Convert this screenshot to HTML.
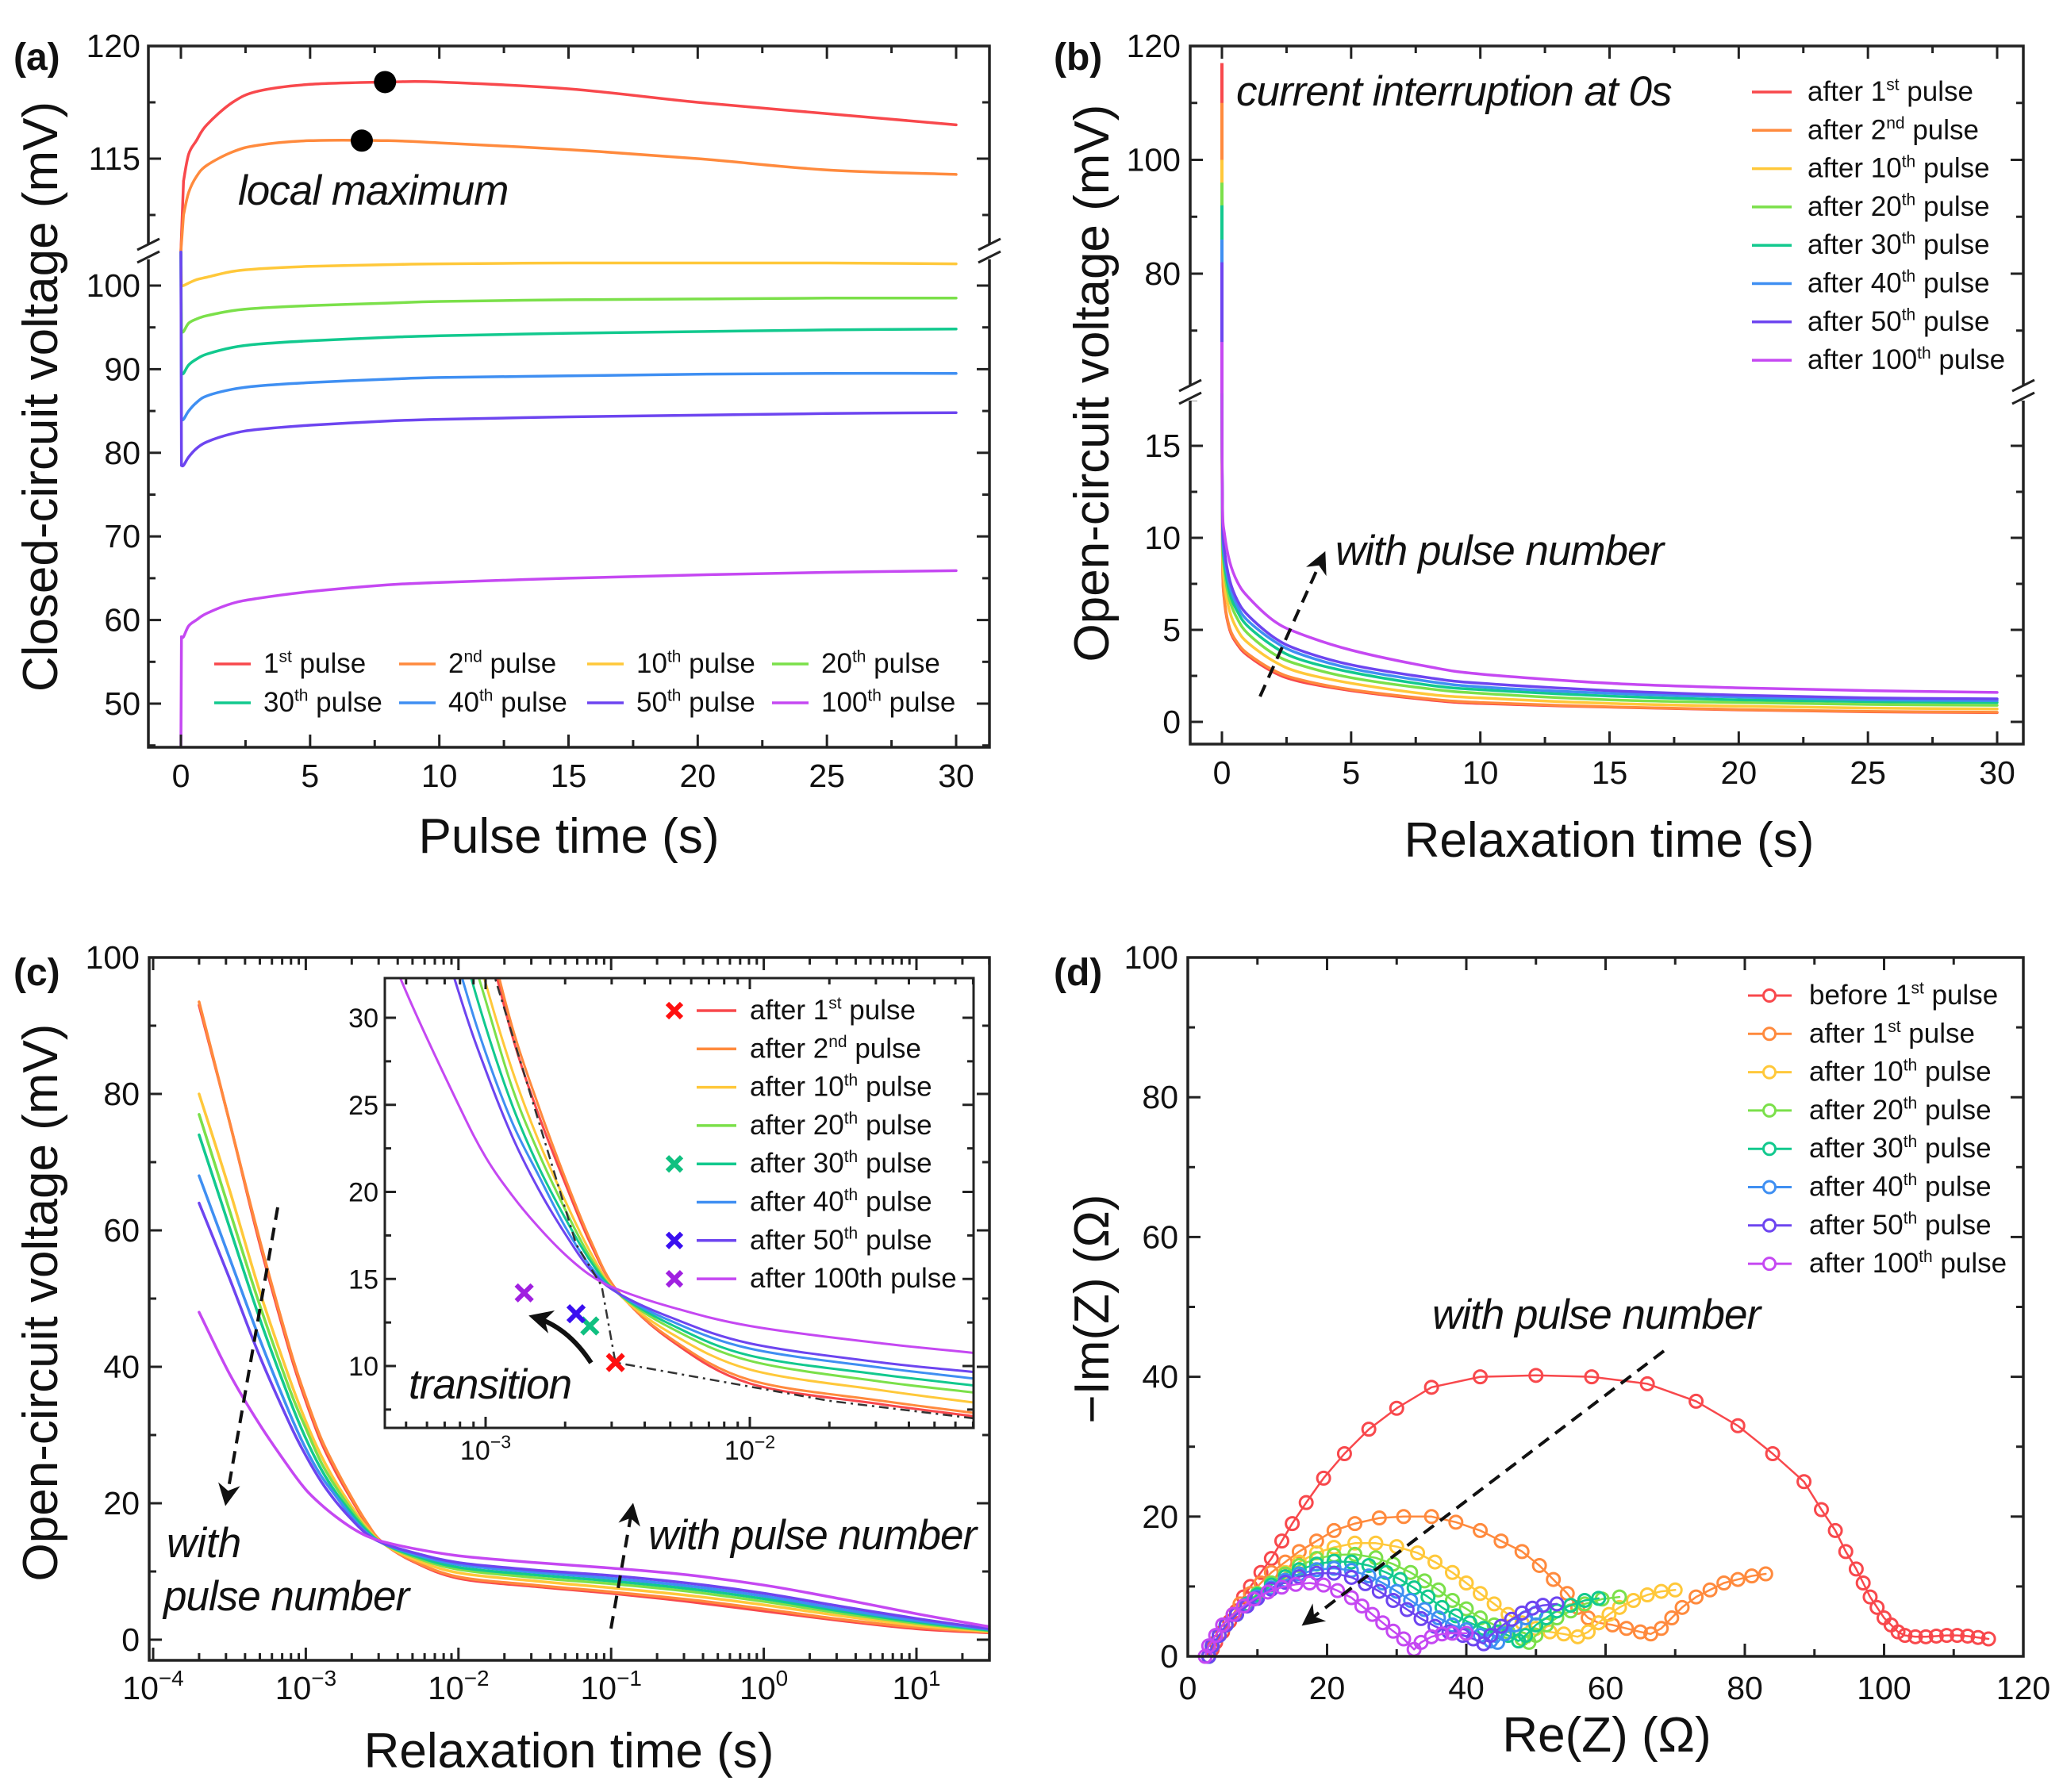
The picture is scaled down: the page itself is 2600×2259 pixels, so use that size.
<!DOCTYPE html>
<html><head><meta charset="utf-8"><style>
html,body{margin:0;padding:0;background:#fff}
svg{display:block;font-family:"Liberation Sans",sans-serif}
</style></head><body>
<svg id="fig" xmlns="http://www.w3.org/2000/svg" width="2600" height="2259" viewBox="0 0 2600 2259">
<defs>
<marker id="ah" viewBox="0 0 10 10" refX="8" refY="5" markerWidth="7" markerHeight="7" orient="auto"><path d="M0,0 L10,5 L0,10 L3,5 z" fill="#111"/></marker>
<marker id="ah2" viewBox="0 0 10 10" refX="8" refY="5" markerWidth="5" markerHeight="5" orient="auto"><path d="M0,0 L10,5 L0,10 L3,5 z" fill="#111"/></marker>
</defs>
</svg>
<script>
// ---------- shared ----------
const colors = ["#f8484c","#ff8a3d","#ffc83a","#7be04a","#12c98e","#3f8ff2","#6d45f0","#c548f2"];
const pulseOrd = [["1","st"],["2","nd"],["10","th"],["20","th"],["30","th"],["40","th"],["50","th"],["100","th"]];

// ---------- panel a data ----------
const aTime = [0,0.1,0.3,0.6,1,2,3,5,8,10,15,20,25,30];
const a1 = [110.9,114,115.2,115.8,116.5,117.5,118,118.3,118.4,118.4,118.1,117.5,117.0,116.5];
const a2 = [110.9,112.5,113.5,114.2,114.7,115.3,115.6,115.8,115.8,115.7,115.4,115.0,114.5,114.3];
const a10 = [104,100,100.3,100.7,101,101.7,102,102.3,102.5,102.6,102.7,102.7,102.7,102.6];
const a20 = [104,94.5,95.5,96,96.4,97,97.3,97.6,97.9,98.1,98.3,98.4,98.5,98.5];
const a30 = [104,89.5,90.5,91.2,91.8,92.6,93,93.4,93.8,94,94.3,94.5,94.7,94.8];
const a40 = [104,84,85,86,86.8,87.6,88,88.4,88.8,89,89.2,89.4,89.5,89.5];
const a50 = [104,78.5,79.5,80.5,81.3,82.3,82.8,83.3,83.8,84,84.3,84.5,84.7,84.8];
const a100 = [45,58,59.3,60,60.8,62,62.6,63.4,64.2,64.5,65,65.4,65.7,65.9];
const aMaxT = [7.9,7.0];
const aMaxV = [118.4,115.8];
const aXTicks = [0,5,10,15,20,25,30];
const aYUpper = [115,120];
const aYLower = [50,60,70,80,90,100];

// ---------- panel b data ----------
const bTime = [0,0.02,0.1,0.3,0.6,1,2,3,5,8,10,15,20,25,30];
const bStart = [117,110,100,96,92,86,82,68];
const b1 = [17.9,9,6.5,5,4.2,3.6,2.7,2.2,1.7,1.2,1.0,0.8,0.65,0.55,0.5];
const b2 = [17.9,9,6.6,5.1,4.3,3.7,2.8,2.3,1.75,1.25,1.05,0.82,0.67,0.57,0.52];
const b10 = [17.9,9.8,7.5,6,5,4.3,3.3,2.7,2.1,1.5,1.3,1.0,0.85,0.75,0.7];
const b20 = [17.9,10.3,8.2,6.6,5.6,4.8,3.7,3.1,2.4,1.8,1.55,1.2,1.05,0.95,0.9];
const b30 = [17.9,10.6,8.6,7.0,6.0,5.2,4.1,3.4,2.7,2.0,1.75,1.4,1.2,1.1,1.05];
const b40 = [17.9,10.9,9.0,7.4,6.3,5.5,4.4,3.7,2.9,2.2,1.9,1.55,1.35,1.2,1.15];
const b50 = [17.9,11.2,9.3,7.7,6.6,5.8,4.6,3.9,3.1,2.4,2.1,1.7,1.45,1.3,1.25];
const b100 = [17.9,11.8,10.2,8.7,7.6,6.8,5.5,4.8,3.9,3.0,2.6,2.1,1.85,1.7,1.6];
const bXTicks = [0,5,10,15,20,25,30];
const bYUpper = [80,100,120];
const bYLower = [0,5,10,15];

// ---------- panel c data ----------
const cTime = [2e-4,3.16e-4,5e-4,7.9e-4,1e-3,1.26e-3,1.58e-3,2e-3,2.5e-3,3.16e-3,5e-3,1e-2,3.16e-2,0.1,0.316,1,3.16,10,30];
const c1 = [93,76,58,42,35,29,24.5,20.5,17,14.3,11.5,9,7.8,6.8,5.6,4.2,2.8,1.6,1.0];
const c2 = [93.5,76,58.5,42.5,35.5,29.5,25,20.8,17.2,14.3,11.6,9.2,8.0,7.0,5.9,4.5,3.0,1.8,1.1];
const c10 = [80,66,51,38,32,27,23,19.5,16.5,14.2,11.9,9.8,8.6,7.6,6.5,5.1,3.5,2.1,1.2];
const c20 = [77,63,49,36.5,31,26,22.3,19,16.2,14.2,12.2,10.3,9.1,8.2,7.1,5.6,3.9,2.4,1.3];
const c30 = [74,60.5,47,35,29.5,25,21.5,18.5,16,14.2,12.4,10.6,9.5,8.6,7.5,6.0,4.2,2.6,1.4];
const c40 = [68,56,44,33,28,24,21,18,15.7,14.2,12.6,11,9.9,9.0,7.9,6.4,4.5,2.8,1.5];
const c50 = [64,53,41.5,31.5,27,23.2,20.2,17.6,15.5,14.2,12.8,11.3,10.2,9.4,8.3,6.8,4.9,3.1,1.6];
const c100 = [48,39,31.5,25,22,19.8,18,16.4,15.2,14.4,13.4,12.3,11.3,10.5,9.5,8.0,6.0,3.8,1.9];
const cXDecades = [-4,-3,-2,-1,0,1];
const cYTicks = [0,20,40,60,80,100];
const insetXDecades = [-3,-2];
const insetYTicks = [10,15,20,25,30];
const crossT = [3.1e-3,2.48e-3,2.2e-3,1.4e-3];
const crossV = [10.2,12.3,13.0,14.2];
const crossColor = ["#ff1010","#10c080","#3a10f0","#a020e0"];

// ---------- panel d data ----------
const dRed = [[3,0],[3.5,1],[4,2],[5,3.5],[6,5],[7,6.5],[8,8.5],[9,10],[10.5,12],[12,14],[13.5,16.5],[15,19],[17,22],[19.5,25.5],[22.5,29],[26,32.5],[30,35.5],[35,38.5],[42,40],[50,40.2],[58,40],[66,39],[73,36.5],[79,33],[84,29],[88.5,25],[91,21],[93,18],[94.5,15],[96,12.5],[97,10.5],[98,8.5],[99,7],[100,5.5],[101,4.5],[102,3.5],[103,3],[104.5,2.8],[106,2.8],[107.5,2.9],[109,3],[110.5,3],[112,2.9],[113.5,2.7],[115,2.5]];
const dOrange = [[3,0],[3.5,1.5],[4.5,3],[5.5,4.5],[6.5,6],[7.5,7.5],[9,9],[10.5,10.5],[12,12],[14,13.5],[16,15],[18.5,16.5],[21,18],[24,19],[27.5,19.8],[31,20],[35,20],[38.5,19.2],[42,18],[45,16.5],[48,15],[50.5,13],[52.5,11],[54.5,9],[56,7],[57.5,5.5],[59,4.8],[61,4.5],[63,4],[65,3.5],[66.5,3.2],[68,4],[69.5,5.5],[71,7],[73,8.5],[75,9.5],[77,10.5],[79,11],[81,11.5],[83,11.8]];
const dYellow = [[3,0],[3.5,1.5],[4.5,3],[5.5,4.5],[7,6],[8.5,7.5],[10,9],[12,10.5],[14,12],[16,13.5],[18.5,14.8],[21,15.6],[24,16.2],[27,16.2],[30,15.7],[33,14.8],[35.5,13.5],[38,12],[40,10.5],[42,9],[44,7.5],[46,6],[48,4.8],[50,4],[52,3.5],[54,3.2],[56,2.8],[57.5,3.5],[59,4.8],[60.5,6],[62,7],[64,8],[66,8.8],[68,9.3],[70,9.5]];
const dGreen = [[3,0],[3.5,1.5],[4.5,3],[5.5,4.5],[7,6],[8.5,7.5],[10,9],[12,10.5],[14,11.8],[16,13],[18.5,14],[21,14.5],[24,14.6],[27,14.1],[29.5,13.2],[32,12],[34,10.8],[36,9.5],[38,8],[40,6.8],[42,5.5],[44,4.5],[46,3.5],[48,2.5],[49,2],[50,3],[51.5,4.5],[53,5.5],[55,6.5],[57,7.5],[59.5,8.2],[62,8.5]];
const dTeal = [[3,0],[3.5,1.5],[4.5,3],[5.5,4.5],[7,6],[8.5,7.5],[10,8.8],[12,10.2],[14,11.4],[16,12.4],[18.5,13.2],[21,13.6],[23.5,13.5],[26,13],[28.5,12],[30.5,11],[32.5,9.8],[34.5,8.5],[36.5,7],[38.5,5.8],[40.5,4.8],[42.5,4],[44.5,3.5],[46,3],[47.5,2.2],[48.5,3],[50,4.5],[51.5,5.5],[53,6.5],[55,7.3],[57,8],[59,8.3]];
const dBlue = [[3,0],[3.5,1.5],[4.5,3],[5.5,4.5],[7,6],[8.5,7.3],[10,8.5],[12,9.8],[14,10.9],[16,11.8],[18.5,12.4],[21,12.6],[23.5,12.3],[26,11.5],[28,10.5],[30,9.3],[32,8],[34,6.7],[36,5.5],[38,4.5],[40,3.8],[42,3],[43.5,2.2],[44.5,2],[45.5,3.2],[47,4.5],[48.5,5.5],[50,6.2]];
const dViolet = [[3,0],[3.5,1.5],[4.5,3],[5.5,4.5],[7,6],[8.5,7.2],[10,8.3],[12,9.6],[14,10.6],[16,11.4],[18.5,11.9],[21,11.9],[23.5,11.3],[25.5,10.4],[27.5,9.3],[29.5,8],[31.5,6.7],[33.5,5.4],[35.5,4.3],[37.5,3.5],[39.5,3],[41,2.5],[42.5,1.8],[43.5,3],[45,4.3],[46.5,5.3],[48,6.2],[49.5,6.9],[51,7.3],[53,7.5]];
const dMagenta = [[2.5,0],[3,1.5],[4,3],[5,4.5],[6.5,6],[8,7.2],[9.5,8.2],[11.5,9.2],[13.5,9.9],[15.5,10.3],[17.5,10.5],[19.5,10.2],[21.5,9.4],[23.5,8.4],[25,7.2],[26.5,6],[28,4.8],[29.5,3.6],[31,2.5],[32.5,1],[33.5,2],[35,2.8],[36.5,3.2],[38,3.3],[40,3.3]];
const dXTicks = [0,20,40,60,80,100,120];
const dYTicks = [0,20,40,60,80,100];

// ---------- helpers ----------
const NS = "http://www.w3.org/2000/svg";
const svg = document.getElementById('fig');
const TICKF = 41, LEGF = 35, ANNF = 53, TITF = 62;
function mk(tag, attrs, name, parent) {
  const el = document.createElementNS(NS, tag);
  for (const k in attrs) el.setAttribute(k, attrs[k]);
  
  
  (parent || svg).appendChild(el);
  return el;
}
function grp(name) { return mk('g', {}, name); }
function txt(x, y, s, size, name, opts, parent) {
  opts = opts || {};
  const a = {x:x, y:y, 'font-size':size, fill:'#111'};
  if (opts.anchor) a['text-anchor'] = opts.anchor;
  if (opts.italic) a['font-style'] = 'italic';
  if (opts.bold) a['font-weight'] = 'bold';
  if (opts.transform) a.transform = opts.transform;
  if (opts.ls) a['letter-spacing'] = opts.ls;
  const t = mk('text', a, name, parent);
  t.textContent = s;
  return t;
}
function ordText(x, y, pre, ord, post, size, name, parent, anchor) {
  const a = {x:x, y:y, 'font-size':size, fill:'#111'};
  if (anchor) a['text-anchor'] = anchor;
  const t = mk('text', a, name, parent);
  t.appendChild(document.createTextNode(pre));
  const s = document.createElementNS(NS, 'tspan');
  s.setAttribute('dy', -size*0.38);
  s.setAttribute('font-size', size*0.6);
  s.textContent = ord;
  t.appendChild(s);
  const r = document.createElementNS(NS, 'tspan');
  r.setAttribute('dy', size*0.38);
  r.textContent = post;
  t.appendChild(r);
  return t;
}
function pwr(x, y, exp, size, name, parent) {
  const t = mk('text', {x:x, y:y, 'font-size':size, fill:'#111', 'text-anchor':'middle'}, name, parent);
  t.appendChild(document.createTextNode('10'));
  const s = document.createElementNS(NS, 'tspan');
  s.setAttribute('dy', -size*0.42);
  s.setAttribute('font-size', size*0.68);
  s.textContent = exp;
  t.appendChild(s);
  return t;
}
function ln(x1,y1,x2,y2,name,parent,stroke,w,extra) {
  const a = {x1:x1,y1:y1,x2:x2,y2:y2,stroke:stroke||'#222','stroke-width':w||3};
  if (extra) for (const k in extra) a[k]=extra[k];
  return mk('line', a, name, parent);
}
function poly(pts, color, name, parent, w) {
  return mk('polyline', {points: pts.map(p=>p[0].toFixed(1)+','+p[1].toFixed(1)).join(' '), fill:'none', stroke:color, 'stroke-width':w||3.5, 'stroke-linejoin':'round','stroke-linecap':'round'}, name, parent);
}
function smooth(pts, color, name, parent, w) {
  let d = 'M'+pts[0][0].toFixed(1)+','+pts[0][1].toFixed(1);
  for (let i=0;i<pts.length-1;i++){
    const p0=pts[Math.max(0,i-1)], p1=pts[i], p2=pts[i+1], p3=pts[Math.min(pts.length-1,i+2)];
    const c1x=p1[0]+(p2[0]-p0[0])/6, c1y=p1[1]+(p2[1]-p0[1])/6;
    const c2x=p2[0]-(p3[0]-p1[0])/6, c2y=p2[1]-(p3[1]-p1[1])/6;
    d+=' C'+c1x.toFixed(1)+','+c1y.toFixed(1)+' '+c2x.toFixed(1)+','+c2y.toFixed(1)+' '+p2[0].toFixed(1)+','+p2[1].toFixed(1);
  }
  return mk('path', {d:d, fill:'none', stroke:color, 'stroke-width':w||3.5, 'stroke-linejoin':'round','stroke-linecap':'round'}, name, parent);
}
function frame(x0,y0,x1,y1,name,parent,w){
  return mk('rect',{x:x0,y:y0,width:x1-x0,height:y1-y0,fill:'none',stroke:'#222','stroke-width':w||3.5},name,parent);
}
function xTick(x, y0, y1, len, name, parent){
  ln(x,y1,x,y1-len,name,parent,'#222',3);
  ln(x,y0,x,y0+len,name+'-top',parent,'#222',3);
}
function yTick(y, x0, x1, len, name, parent){
  ln(x0,y,x0+len,y,name,parent,'#222',3);
  ln(x1,y,x1-len,y,name+'-right',parent,'#222',3);
}
function breakMark(x, y, name, parent){
  mk('rect',{x:x-14,y:y-10,width:28,height:20,fill:'#fff'},name+'-gap',parent);
  ln(x-14,y-2,x+14,y-16,name+'-stroke1',parent,'#222',3);
  ln(x-14,y+14,x+14,y,name+'-stroke2',parent,'#222',3);
}

// ================= PANEL A =================
(function(){
  const g = grp('panel-a');
  const L=187,R=1247,T=58,B=942,BR=317;
  const x = t => 228 + (t-0)*(1205-228)/30;
  const yU = v => 58 + (120-v)*(200-58)/5;
  const yL = v => 360 + (100-v)*(887-360)/50;
  const series = [a1,a2,a10,a20,a30,a40,a50,a100];
  const plot = mk('g',{},'plot-area-a',g);
  for (let t=0;t<=30;t+=2.5){ xTick(x(t),T,B,(t%5===0)?16:9,'x-tick-a',g); }
  aXTicks.forEach(t=>txt(x(t),992,String(t),TICKF,'x-tick-label-a',{anchor:'middle'},g));
  for (let v=112.5; v<=120; v+=2.5){ yTick(yU(v),L,R,(v%5===0)?16:9,'y-tick-a-upper',g); }
  for (let v=45; v<=100; v+=5){ yTick(yL(v),L,R,(v%10===0)?16:9,'y-tick-a-lower',g); }
  aYUpper.forEach(v=>txt(L-10,yU(v)+14,String(v),TICKF,'y-tick-label-a',{anchor:'end'},g));
  aYLower.forEach(v=>txt(L-10,yL(v)+14,String(v),TICKF,'y-tick-label-a',{anchor:'end'},g));
  series.forEach((s,i)=>{
    const up = i<2;
    const pts = aTime.map((t,k)=>[x(t), up?yU(s[k]):yL(s[k])]);
    if (!up) { pts[0]=[x(0), yL(s[0])]; pts.splice(1,0,[x(0.02), yL(s[1])]); }
    poly(pts.slice(0,2), colors[i], 'curve-a-start-'+pulseOrd[i][0], plot);
    smooth(pts.slice(1), colors[i], 'curve-a-'+pulseOrd[i][0]+pulseOrd[i][1], plot);
  });
  aMaxT.forEach((t,i)=>mk('circle',{cx:x(t),cy:yU(aMaxV[i]),r:14,fill:'#000'},'local-maximum-dot',plot));
  frame(L,T,R,B,'axes-frame-a',g);
  breakMark(L,BR,'axis-break-a-left',g);
  breakMark(R,BR,'axis-break-a-right',g);
  txt(300,258,'local maximum',ANNF,'annotation-local-maximum',{italic:true,ls:-1},g);
  const lx=[270,503,740,973], ly=[848,897];
  for (let i=0;i<8;i++){
    const cx=lx[i%4], cy=ly[Math.floor(i/4)];
    ln(cx,cy-11,cx+46,cy-11,'legend-line-a',g,colors[i],3.5);
    ordText(cx+62,cy,pulseOrd[i][0],pulseOrd[i][1],' pulse',LEGF,'legend-entry-a',g);
  }
  txt(17,88,'(a)',48,'panel-label-a',{bold:true},g);
  txt(717,1075,'Pulse time (s)',TITF,'x-axis-title-a',{anchor:'middle'},g);
  txt(72,500,'Closed-circuit voltage (mV)',TITF,'y-axis-title-a',{anchor:'middle',transform:'rotate(-90 72 500)'},g);
})();

// ================= PANEL B =================
(function(){
  const g = grp('panel-b');
  const L=1500,R=2550,T=58,B=938,BR=495;
  const x = t => 1540 + t*(2517-1540)/30;
  const yU = v => 58 + (120-v)*(345-58)/40;
  const yL = v => 910 - v*(910-562)/15;
  const series = [b1,b2,b10,b20,b30,b40,b50,b100];
  const plot = mk('g',{},'plot-area-b',g);
  for (let t=0;t<=30;t+=2.5){ xTick(x(t),T,B,(t%5===0)?16:9,'x-tick-b',g); }
  bXTicks.forEach(t=>txt(x(t),988,String(t),TICKF,'x-tick-label-b',{anchor:'middle'},g));
  for (let v=70; v<=120; v+=10){ yTick(yU(v),L,R,(v%20===0)?16:9,'y-tick-b-upper',g); }
  for (let v=0; v<=17.5; v+=2.5){ yTick(yL(v),L,R,(v%5===0)?16:9,'y-tick-b-lower',g); }
  bYUpper.forEach(v=>txt(L-12,yU(v)+14,String(v),TICKF,'y-tick-label-b',{anchor:'end'},g));
  bYLower.forEach(v=>txt(L-12,yL(v)+14,String(v),TICKF,'y-tick-label-b',{anchor:'end'},g));
  series.forEach((s,i)=>{
    ln(x(0),yU(bStart[i]),x(0),yU(59),'spike-b-'+pulseOrd[i][0],plot,colors[i],4);
    const pts = bTime.map((t,k)=>[x(t), yL(s[k])]);
    smooth(pts, colors[i], 'curve-b-'+pulseOrd[i][0]+pulseOrd[i][1], plot);
  });
  frame(L,T,R,B,'axes-frame-b',g);
  breakMark(L,BR,'axis-break-b-left',g);
  breakMark(R,BR,'axis-break-b-right',g);
  txt(1558,133,'current interruption at 0s',ANNF,'annotation-current-interruption',{italic:true,ls:-1},g);
  txt(1683,712,'with pulse number',ANNF,'annotation-with-pulse-number-b',{italic:true,ls:-1},g);
  ln(1588,878,1668,700,'arrow-with-pulse-number-b',g,'#111',4,{'stroke-dasharray':'16 10','marker-end':'url(#ah)'});
  for (let i=0;i<8;i++){
    const cy=127+48.3*i;
    ln(2208,cy-11,2258,cy-11,'legend-line-b',g,colors[i],3.5);
    ordText(2278,cy,'after '+pulseOrd[i][0],pulseOrd[i][1],' pulse',LEGF,'legend-entry-b',g);
  }
  txt(1328,88,'(b)',48,'panel-label-b',{bold:true},g);
  txt(2028,1080,'Relaxation time (s)',TITF,'x-axis-title-b',{anchor:'middle'},g);
  txt(1397,483,'Open-circuit voltage (mV)',TITF,'y-axis-title-b',{anchor:'middle',transform:'rotate(-90 1397 483)'},g);
})();

// ================= PANEL C =================
(function(){
  const g = grp('panel-c');
  const L=188,R=1247,T=1207,B=2093;
  const x = t => 193 + (Math.log10(t)+4)*192.4;
  const y = v => 2067 - v*8.6;
  const series = [c1,c2,c10,c20,c30,c40,c50,c100];
  const plot = mk('g',{},'plot-area-c',g);
  cXDecades.forEach(d=>{
    for (let m=1;m<10;m++){
      const xx = x(m*Math.pow(10,d));
      if (xx>L && xx<R) xTick(xx,T,B,m===1?16:9,'x-tick-c',g);
    }
    pwr(x(Math.pow(10,d)),2142,String(d).replace('-','−'),TICKF,'x-tick-label-c',g);
  });
  for (let v=0; v<=100; v+=10){ yTick(y(v),L,R,(v%20===0)?16:9,'y-tick-c',g); }
  cYTicks.forEach(v=>txt(L-12,y(v)+14,String(v),TICKF,'y-tick-label-c',{anchor:'end'},g));
  series.forEach((s,i)=>{
    const pts = cTime.map((t,k)=>[x(t), y(s[k])]);
    smooth(pts, colors[i], 'curve-c-'+pulseOrd[i][0]+pulseOrd[i][1], plot);
  });
  frame(L,T,R,B,'axes-frame-c',g);
  txt(210,1963,'with',ANNF,'annotation-with-c',{italic:true},g);
  txt(206,2030,'pulse number',ANNF,'annotation-pulse-number-c',{italic:true,ls:-1},g);
  ln(350,1522,285,1893,'arrow-decreasing-c',g,'#111',4,{'stroke-dasharray':'16 10','marker-end':'url(#ah)'});
  txt(817,1953,'with pulse number',ANNF,'annotation-with-pulse-number-c',{italic:true,ls:-1},g);
  ln(770,2053,797,1900,'arrow-increasing-c',g,'#111',4,{'stroke-dasharray':'16 10','marker-end':'url(#ah)'});
  txt(17,1242,'(c)',48,'panel-label-c',{bold:true},g);
  txt(717,2228,'Relaxation time (s)',TITF,'x-axis-title-c',{anchor:'middle'},g);
  txt(72,1642,'Open-circuit voltage (mV)',TITF,'y-axis-title-c',{anchor:'middle',transform:'rotate(-90 72 1642)'},g);

  // ---- inset ----
  const ig = mk('g',{},'inset-c',g);
  const IL=485,IR=1227,IT=1233,IB=1800;
  const ix = t => 612 + (Math.log10(t)+3)*333;
  const iy = v => 1722 - (v-10)*21.95;
  mk('rect',{x:IL,y:IT,width:IR-IL,height:IB-IT,fill:'#fff'},'inset-background',ig);
  const clip = mk('clipPath',{id:'inclip'},'inset-clip',ig);
  mk('rect',{x:IL,y:IT,width:IR-IL,height:IB-IT},'inset-clip-rect',clip);
  const iplot = mk('g',{'clip-path':'url(#inclip)'},'inset-plot-area',ig);
  [-4,-3,-2].forEach(d=>{
    for (let m=1;m<10;m++){
      const xx = ix(m*Math.pow(10,d));
      if (xx>IL && xx<IR) xTick(xx,IT,IB,m===1?14:8,'x-tick-inset',ig);
    }
  });
  insetXDecades.forEach(d=>pwr(ix(Math.pow(10,d)),1840,String(d).replace('-','−'),34,'x-tick-label-inset',ig));
  for (let v=7.5; v<=32.5; v+=2.5){ if(iy(v)>IT&&iy(v)<IB) yTick(iy(v),IL,IR,(v%5===0)?14:8,'y-tick-inset',ig); }
  insetYTicks.forEach(v=>txt(IL-8,iy(v)+12,String(v),34,'y-tick-label-inset',{anchor:'end'},ig));
  series.forEach((s,i)=>{
    const pts = cTime.map((t,k)=>[ix(t), iy(s[k])]);
    smooth(pts, colors[i], 'inset-curve-'+pulseOrd[i][0]+pulseOrd[i][1], iplot, 3);
  });
  mk('polyline',{points:[[ix(1.05e-3),iy(33)],[ix(2.2e-3),iy(17)],[ix(2.75e-3),iy(14.6)],[ix(3.1e-3),iy(10.2)],[ix(2e-2),iy(8)],[ix(7e-2),iy(7.0)]].map(p=>p.join(',')).join(' '),fill:'none',stroke:'#333','stroke-width':2.5,'stroke-dasharray':'12 6 3 6'},'transition-guide-line',iplot);
  crossT.forEach((t,i)=>{
    const cx=ix(t), cy=iy(crossV[i]);
    ln(cx-10,cy-10,cx+10,cy+10,'transition-marker',iplot,crossColor[i],6);
    ln(cx-10,cy+10,cx+10,cy-10,'transition-marker',iplot,crossColor[i],6);
  });
  mk('path',{d:'M745,1718 Q715,1672 672,1660',fill:'none',stroke:'#111','stroke-width':6,'marker-end':'url(#ah2)'},'transition-arrow',ig);
  txt(515,1763,'transition',ANNF,'annotation-transition',{italic:true,ls:-1},ig);
  frame(IL,IT,IR,IB,'inset-frame',ig,3);
  const crossRow = {0:0,4:1,6:2,7:3};
  for (let i=0;i<8;i++){
    const cy=1285+48.3*i;
    ln(878,cy-11,928,cy-11,'inset-legend-line',ig,colors[i],3.5);
    if (crossRow[i]!==undefined){
      const c=crossColor[crossRow[i]];
      ln(841,cy-20,859,cy-2,'inset-legend-marker',ig,c,6);
      ln(841,cy-2,859,cy-20,'inset-legend-marker',ig,c,6);
    }
    if (i===7) txt(945,cy,'after 100th pulse',LEGF,'inset-legend-entry',{},ig);
    else ordText(945,cy,'after '+pulseOrd[i][0],pulseOrd[i][1],' pulse',LEGF,'inset-legend-entry',ig);
  }
})();

// ================= PANEL D =================
(function(){
  const g = grp('panel-d');
  const L=1497,R=2550,T=1207,B=2088;
  const x = v => 1497 + v*(2550-1497)/120;
  const y = v => 2088 - v*(2088-1207)/100;
  const series = [dRed,dOrange,dYellow,dGreen,dTeal,dBlue,dViolet,dMagenta];
  const labels = [['before 1','st'],['after 1','st'],['after 10','th'],['after 20','th'],['after 30','th'],['after 40','th'],['after 50','th'],['after 100','th']];
  const plot = mk('g',{},'plot-area-d',g);
  for (let v=0;v<=120;v+=10){ xTick(x(v),T,B,(v%20===0)?16:9,'x-tick-d',g); }
  dXTicks.forEach(v=>txt(x(v),2142,String(v),TICKF,'x-tick-label-d',{anchor:'middle'},g));
  for (let v=0;v<=100;v+=10){ yTick(y(v),L,R,(v%20===0)?16:9,'y-tick-d',g); }
  dYTicks.forEach(v=>txt(L-12,y(v)+14,String(v),TICKF,'y-tick-label-d',{anchor:'end'},g));
  series.forEach((s,i)=>{
    const pts = s.map(p=>[x(p[0]),y(p[1])]);
    poly(pts, colors[i], 'nyquist-line-'+i, plot, 2.5);
    pts.forEach(p=>mk('circle',{cx:p[0],cy:p[1],r:8,fill:'none',stroke:colors[i],'stroke-width':3},'nyquist-point',plot));
  });
  frame(L,T,R,B,'axes-frame-d',g);
  txt(1805,1675,'with pulse number',ANNF,'annotation-with-pulse-number-d',{italic:true,ls:-1},g);
  ln(2097,1703,1645,2046,'arrow-with-pulse-number-d',g,'#111',4,{'stroke-dasharray':'16 10','marker-end':'url(#ah)'});
  for (let i=0;i<8;i++){
    const cy=1266+48.3*i;
    ln(2203,cy-11,2258,cy-11,'legend-line-d',g,colors[i],3);
    mk('circle',{cx:2230,cy:cy-11,r:7.5,fill:'#fff',stroke:colors[i],'stroke-width':3},'legend-marker-d',g);
    ordText(2280,cy,labels[i][0],labels[i][1],' pulse',LEGF,'legend-entry-d',g);
  }
  txt(1328,1242,'(d)',48,'panel-label-d',{bold:true},g);
  txt(2025,2208,'Re(Z) (Ω)',TITF,'x-axis-title-d',{anchor:'middle'},g);
  txt(1397,1650,'−Im(Z) (Ω)',TITF,'y-axis-title-d',{anchor:'middle',transform:'rotate(-90 1397 1650)'},g);
})();
</script>
</body></html>
